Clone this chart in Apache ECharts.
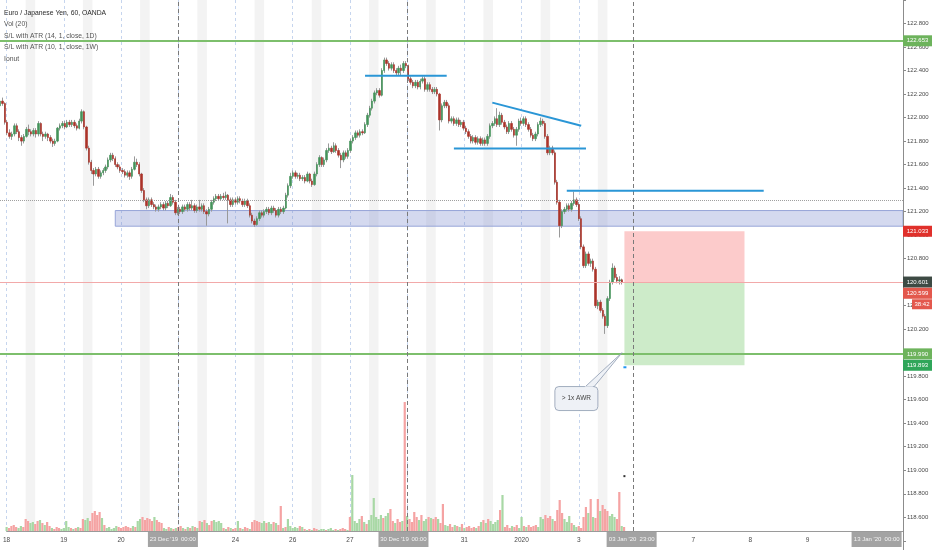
<!DOCTYPE html>
<html><head><meta charset="utf-8">
<script src="https://cdn.jsdelivr.net/npm/echarts/dist/echarts.min.js"></script>
<style>html,body{margin:0;padding:0;background:#fff}#c{width:932px;height:550px}</style>
</head><body><div id="c"></div>
<script>
// ---------- data ----------
const dayNames = ['18 Dec','19 Dec','20 Dec','23 Dec','24 Dec','26 Dec','27 Dec','30 Dec','31 Dec','02 Jan','03 Jan','06 Jan','07 Jan','08 Jan','09 Jan','10 Jan'];
const dayTicks = ['18','19','20','23','24','26','27','30','31','2020','3','6','7','8','9','10'];
// hourly candles [open, close, low, high]
const candles = [
[122.10,122.14,122.08,122.16],[122.14,122.12,122.10,122.17],[122.12,121.96,121.94,122.13],[121.96,121.87,121.85,121.98],[121.87,121.84,121.82,121.90],
[121.84,121.86,121.81,121.88],[121.86,121.93,121.84,121.95],[121.93,121.88,121.86,121.95],[121.88,121.83,121.80,121.90],[121.83,121.80,121.76,121.85],
[121.80,121.84,121.78,121.86],[121.84,121.90,121.83,121.92],[121.90,121.88,121.85,121.94],[121.88,121.86,121.84,121.90],[121.86,121.89,121.84,121.91],
[121.89,121.86,121.83,121.91],[121.86,121.95,121.84,121.97],[121.95,121.86,121.84,121.96],[121.86,121.84,121.80,121.88],[121.84,121.86,121.82,121.88],
[121.86,121.83,121.80,121.87],[121.83,121.80,121.78,121.85],[121.80,121.78,121.75,121.82],[121.78,121.80,121.76,121.82],[121.80,121.91,121.79,121.92],
[121.91,121.93,121.89,121.95],[121.93,121.95,121.91,121.97],[121.95,121.92,121.90,121.97],[121.92,121.96,121.91,121.98],[121.96,121.94,121.92,121.98],
[121.94,121.96,121.92,121.98],[121.96,121.93,121.91,121.98],[121.93,121.91,121.89,121.95],[121.91,121.97,121.90,121.99],[121.97,122.05,121.95,122.07],
[122.05,121.92,121.90,122.06],[121.92,121.74,121.72,121.93],[121.74,121.62,121.60,121.76],[121.62,121.55,121.52,121.64],[121.55,121.52,121.42,121.57],
[121.52,121.56,121.50,121.58],[121.56,121.50,121.48,121.58],[121.50,121.53,121.48,121.55],[121.53,121.55,121.51,121.57],[121.55,121.58,121.53,121.60],
[121.58,121.64,121.56,121.66],[121.64,121.68,121.62,121.70],[121.68,121.65,121.63,121.70],[121.65,121.60,121.58,121.67],[121.60,121.58,121.56,121.62],
[121.58,121.55,121.53,121.60],[121.55,121.54,121.52,121.57],[121.54,121.51,121.49,121.56],[121.51,121.53,121.49,121.55],[121.53,121.50,121.47,121.55],
[121.50,121.56,121.48,121.58],[121.56,121.62,121.55,121.67],[121.62,121.60,121.58,121.65],[121.60,121.52,121.50,121.62],[121.52,121.38,121.36,121.53],
[121.38,121.30,121.28,121.40],[121.30,121.25,121.22,121.32],[121.25,121.30,121.23,121.32],[121.30,121.26,121.24,121.32],[121.26,121.24,121.22,121.28],
[121.24,121.22,121.20,121.26],[121.22,121.24,121.20,121.26],[121.24,121.26,121.22,121.28],[121.26,121.23,121.21,121.28],[121.23,121.27,121.21,121.29],
[121.27,121.25,121.23,121.29],[121.25,121.32,121.24,121.35],[121.32,121.28,121.26,121.34],[121.28,121.19,121.17,121.30],[121.19,121.22,121.17,121.24],
[121.22,121.20,121.18,121.24],[121.20,121.24,121.18,121.26],[121.24,121.22,121.20,121.26],[121.22,121.26,121.20,121.28],[121.26,121.23,121.21,121.28],
[121.23,121.25,121.21,121.30],[121.25,121.21,121.19,121.27],[121.21,121.24,121.19,121.26],[121.24,121.22,121.20,121.30],[121.22,121.25,121.20,121.27],
[121.25,121.20,121.18,121.27],[121.20,121.18,121.08,121.22],[121.18,121.22,121.16,121.24],[121.22,121.28,121.20,121.30],[121.28,121.31,121.26,121.33],
[121.31,121.33,121.29,121.35],[121.33,121.31,121.29,121.35],[121.31,121.33,121.29,121.35],[121.33,121.32,121.30,121.36],[121.32,121.34,121.30,121.37],
[121.34,121.30,121.10,121.35],[121.30,121.26,121.24,121.32],[121.26,121.30,121.24,121.32],[121.30,121.28,121.26,121.32],[121.28,121.31,121.26,121.33],
[121.31,121.29,121.27,121.33],[121.29,121.26,121.24,121.31],[121.26,121.29,121.24,121.31],[121.29,121.25,121.23,121.31],[121.25,121.17,121.15,121.27],
[121.17,121.12,121.10,121.19],[121.12,121.09,121.07,121.14],[121.09,121.14,121.08,121.16],[121.14,121.19,121.12,121.21],[121.19,121.17,121.15,121.21],
[121.17,121.20,121.15,121.22],[121.20,121.22,121.18,121.24],[121.22,121.19,121.17,121.24],[121.19,121.23,121.17,121.25],[121.23,121.21,121.19,121.25],
[121.21,121.17,121.15,121.23],[121.17,121.22,121.15,121.24],[121.22,121.20,121.18,121.24],[121.20,121.23,121.18,121.25],[121.23,121.34,121.22,121.36],
[121.34,121.42,121.32,121.44],[121.42,121.50,121.40,121.53],[121.50,121.53,121.48,121.55],[121.53,121.50,121.48,121.55],[121.50,121.51,121.48,121.53],
[121.51,121.48,121.46,121.53],[121.48,121.49,121.46,121.51],[121.49,121.46,121.44,121.51],[121.46,121.52,121.45,121.54],[121.52,121.46,121.44,121.53],
[121.46,121.43,121.41,121.48],[121.43,121.52,121.42,121.54],[121.52,121.60,121.50,121.62],[121.60,121.66,121.58,121.68],[121.66,121.60,121.58,121.67],
[121.60,121.64,121.58,121.66],[121.64,121.72,121.62,121.74],[121.72,121.74,121.70,121.78],[121.74,121.71,121.69,121.76],[121.71,121.76,121.70,121.79],
[121.76,121.72,121.70,121.78],[121.72,121.68,121.66,121.74],[121.68,121.64,121.57,121.70],[121.64,121.70,121.62,121.72],[121.70,121.67,121.65,121.72],
[121.67,121.72,121.65,121.74],[121.72,121.80,121.70,121.82],[121.80,121.83,121.78,121.85],[121.83,121.87,121.81,121.89],[121.87,121.85,121.83,121.89],
[121.85,121.88,121.83,121.90],[121.88,121.87,121.85,121.90],[121.87,121.94,121.86,121.96],[121.94,122.02,121.92,122.04],[122.02,122.08,122.00,122.10],
[122.08,122.14,122.06,122.16],[122.14,122.21,122.12,122.23],[122.21,122.23,122.19,122.25],[122.23,122.19,122.17,122.25],[122.19,122.40,122.18,122.42],
[122.40,122.49,122.38,122.51],[122.49,122.46,122.44,122.51],[122.46,122.42,122.40,122.48],[122.42,122.45,122.40,122.47],[122.45,122.40,122.38,122.47],
[122.40,122.38,122.36,122.42],[122.38,122.42,122.36,122.44],[122.42,122.40,122.36,122.45],[122.40,122.46,122.38,122.48],[122.46,122.44,122.42,122.48],
[122.44,122.33,122.31,122.45],[122.33,122.30,122.28,122.35],[122.30,122.27,122.25,122.32],[122.27,122.30,122.25,122.32],[122.30,122.26,122.24,122.32],
[122.26,122.31,122.24,122.33],[122.31,122.33,122.29,122.35],[122.33,122.24,122.22,122.35],[122.24,122.28,122.22,122.30],[122.28,122.24,122.22,122.30],
[122.24,122.22,122.20,122.26],[122.22,122.24,122.20,122.26],[122.24,122.20,122.18,122.26],[122.20,121.98,121.89,122.21],[121.98,122.10,121.96,122.12],
[122.10,122.13,122.08,122.15],[122.13,122.10,122.08,122.15],[122.10,121.97,121.95,122.12],[121.97,121.99,121.95,122.01],[121.99,121.95,121.93,122.01],
[121.95,121.98,121.93,122.00],[121.98,121.94,121.92,122.00],[121.94,121.96,121.92,121.98],[121.96,121.91,121.89,121.98],[121.91,121.88,121.86,121.93],
[121.88,121.84,121.82,121.90],[121.84,121.80,121.78,121.86],[121.80,121.83,121.78,121.85],[121.83,121.79,121.77,121.85],[121.79,121.82,121.77,121.84],
[121.82,121.78,121.76,121.84],[121.78,121.81,121.76,121.83],[121.81,121.78,121.76,121.83],[121.78,121.84,121.76,121.86],[121.84,121.93,121.82,121.95],
[121.93,121.95,121.91,121.97],[121.95,121.99,121.93,122.01],[121.99,121.94,121.92,122.08],[121.94,122.02,121.92,122.05],[122.02,121.96,121.94,122.04],
[121.96,121.92,121.90,121.98],[121.92,121.88,121.86,121.94],[121.88,121.95,121.86,121.97],[121.95,121.90,121.88,121.97],[121.90,121.85,121.83,121.92],
[121.85,121.90,121.76,121.92],[121.90,121.97,121.88,121.99],[121.97,121.95,121.93,122.00],[121.95,121.99,121.93,122.01],[121.99,121.94,121.92,122.01],
[121.94,121.90,121.88,121.96],[121.90,121.85,121.83,121.92],[121.85,121.82,121.80,121.87],[121.82,121.86,121.80,121.88],[121.86,121.94,121.84,121.96],
[121.94,121.97,121.92,122.00],[121.97,121.95,121.93,121.99],[121.95,121.84,121.82,121.97],[121.84,121.70,121.68,121.86],[121.70,121.74,121.68,121.76],
[121.74,121.70,121.68,121.76],[121.70,121.45,121.43,121.72],[121.45,121.28,121.26,121.47],[121.28,121.08,120.98,121.30],[121.08,121.20,121.06,121.22],
[121.20,121.22,121.18,121.24],[121.22,121.25,121.20,121.27],[121.25,121.22,121.20,121.27],[121.22,121.27,121.20,121.29],[121.27,121.30,121.25,121.37],
[121.30,121.26,121.24,121.32],[121.26,121.14,121.12,121.28],[121.14,120.90,120.88,121.16],[120.90,120.74,120.72,120.92],[120.74,120.84,120.72,120.86],
[120.84,120.76,120.74,120.86],[120.76,120.78,120.73,120.80],[120.78,120.71,120.69,120.80],[120.71,120.40,120.38,120.73],[120.40,120.43,120.37,120.45],
[120.43,120.36,120.34,120.45],[120.36,120.31,120.29,120.38],[120.31,120.23,120.16,120.33],[120.23,120.46,120.21,120.48],[120.46,120.60,120.44,120.62],
[120.60,120.72,120.58,120.76],[120.72,120.64,120.62,120.74],[120.64,120.61,120.59,120.67],[120.61,120.62,120.58,120.65],[120.62,120.60,120.58,120.63]
];
const volumes = [
4,3,5,6,4,3,5,4, 12,10, 8,9,7,10,11,8,6,9,5, 3,2,4,3,2,3,10,4,3,2,3,4,3, 12,11,13,10,
18,20,16,19,13,6, 3,4,2,3,5,4,3, 4,5,4,3,5,4, 10,12,14,11,13,12,10,14,11,9,8, 3,2,4,3,2,3,
4,5,3,2,4,3,5,4,3, 10,9,11,8,6, 10,11,9,10,8, 3,2,4,3,2,3, 10, 3,2,4,3,2, 9,11,10,9,8,10,
8,9,7,9,8,6, 25, 3, 4, 12,5,3,4,3,5,4, 2,1,2,1,3,2,1,2,2,1,2,3,1,2,1,2,3,2,1, 14,
56,10,8,12,15,9,7,11, 16, 33, 14,12,16,13,15, 18,22, 10,8,12,9,10, 129,
15,12,9,19,14,11,16,10, 12,14,13,12,14,12, 8, 27, 6,5,7,4,6,5,4,7, 3,4,5,3,4,3,5,
9,11,8,12,10,7,9,11, 21, 36, 4,6,3,5,4,6,3, 14, 5,4,6,4,5,6,4, 14,12,16,13,15,12,10,
21, 31, 18,12,9,15,8,6, 4,5,3, 14,24,18, 32, 14,13, 32, 20,26,22,20, 15,17,14,12, 39, 5,4
];
const greenLevels = [122.653, 119.990];
const lastPrice = 120.601;
const grayLevel = 121.30;
const zoneBand = [48, 121.209, 121.076];
const trendLines = [[152,122.356,186,122.356],[205,122.127,242,121.931],[189,121.736,244,121.736],[236,121.378,318,121.378]];
const positionIdx = [260, 310];
const positionPrices = [121.033, 120.601, 119.893];
const tagPrices = [122.653, 121.033, 120.601, 120.599, 119.990, 119.893];
const tagCountdown = '38:42';
const vLineIdx = [72, 168, 263];
const timeBoxes = [[72,"23 Dec '19","00:00"],[168,"30 Dec '19","00:00"],[263,"03 Jan '20","23:00"],[365,"13 Jan '20","00:00"]];
const legendLines = ['Euro / Japanese Yen, 60, OANDA','Vol (20)','S/L with ATR (14, 1, close, 1D)','S/L with ATR (10, 1, close, 1W)','Ionut'];
const callout = ['> 1x AWR', 240, 119.61, 259, 120.00];
const markerDots = [[260, 119.893], [260, 118.95]];
const dataDays = 11;

// ---------- build ----------
const FONT = 'Liberation Sans, Arial, sans-serif';
const cats = [];
dayNames.forEach(d => { for (let h = 0; h < 24; h++) cats.push(d + ' ' + String(h).padStart(2, '0') + ':00'); });
const bodies = candles.map(c => [c[0], c[1], Math.min(c[0], c[1]), Math.max(c[0], c[1])]);
const volData = volumes.map((v, i) => ({ value: v, itemStyle: { color: (candles[i] && candles[i][1] >= candles[i][0]) ? '#a8d8a5' : '#f5a3a3' } }));
const bands = [];
for (let k = 0; k < dataDays; k++) bands.push([{ xAxis: k * 24 + 8 }, { xAxis: k * 24 + 12 }]);

const chart = echarts.init(document.getElementById('c'), null, { renderer: 'canvas' });
const option = {
  animation: false,
  backgroundColor: '#ffffff',
  grid: [
    { left: 0, right: 29, top: -0.85, height: 541.65 },
    { left: 0, right: 29, top: 0, bottom: 19 }
  ],
  xAxis: [
    { gridIndex: 0, type: 'category', data: cats, boundaryGap: false, min: 0, max: 376, show: false,
      axisLine: { show: false, onZero: false }, axisTick: { show: false }, axisLabel: { show: false } },
    { gridIndex: 1, type: 'category', data: cats, boundaryGap: false, min: 0, max: 376,
      axisLine: { show: true, onZero: false, lineStyle: { color: '#9a9a9a', width: 1 } },
      axisTick: { show: false },
      axisLabel: { show: true, color: '#4a4a4a', fontSize: 6.5, fontFamily: FONT, margin: 6,
        interval: (i) => i % 24 === 0,
        formatter: (v, i) => dayTicks[Math.floor(i / 24)] || '' },
      splitLine: { show: true, interval: (i) => i % 24 === 0 && i <= (dataDays - 1) * 24,
        lineStyle: { color: '#c6d5ee', type: [3, 3], width: 1 } } },
    { gridIndex: 0, type: 'value', min: 0, max: 376, show: false,
      axisLine: { show: false, onZero: false }, axisTick: { show: false }, axisLabel: { show: false }, splitLine: { show: false } }
  ],
  yAxis: [
    { gridIndex: 0, type: 'value', position: 'right', min: 118.4, max: 123.0, interval: 0.2,
      axisLine: { show: false, onZero: false },
      axisTick: { show: true, length: 3, lineStyle: { color: '#8a8a8a' } },
      axisLabel: { color: '#4a4a4a', fontSize: 6, fontFamily: FONT, margin: 4,
        formatter: (v) => (v < 118.55 || v > 122.85) ? '' : v.toFixed(3) },
      splitLine: { show: false } },
    { gridIndex: 1, type: 'value', min: 0, max: 531, show: false,
      axisLine: { show: false, onZero: false }, axisTick: { show: false }, axisLabel: { show: false }, splitLine: { show: false } }
  ],
  series: [
    { type: 'line', xAxisIndex: 1, yAxisIndex: 1, data: [], z: 0, silent: true,
      markArea: { silent: true, itemStyle: { color: '#f3f3f3' }, data: bands } },
    { type: 'bar', xAxisIndex: 1, yAxisIndex: 1, data: volData, barWidth: 2.2, z: 1, silent: true },
    { type: 'line', xAxisIndex: 2, yAxisIndex: 0, data: [], z: 2, silent: true,
      markLine: { silent: true, symbol: ['none', 'none'], label: { show: false },
        data: [
          { yAxis: greenLevels[0], lineStyle: { color: '#7dbf6c', width: 2, type: 'solid' } },
          { yAxis: greenLevels[1], lineStyle: { color: '#7dbf6c', width: 2, type: 'solid' } },
          { yAxis: lastPrice, lineStyle: { color: '#f2a9a9', width: 1, type: 'solid' } },
          { yAxis: grayLevel, lineStyle: { color: '#a0a0a0', width: 1, type: 'dotted' } }
        ] },
      markArea: { silent: true,
        data: [
          [{ coord: [zoneBand[0], zoneBand[1]], itemStyle: { color: 'rgba(120,138,206,0.32)', borderColor: '#97a5d8', borderWidth: 1 } }, { coord: [376, zoneBand[2]] }],
          [{ coord: [positionIdx[0], positionPrices[0]], itemStyle: { color: '#fccbcb' } }, { coord: [positionIdx[1], positionPrices[1]] }],
          [{ coord: [positionIdx[0], positionPrices[1]], itemStyle: { color: '#cdebc9' } }, { coord: [positionIdx[1], positionPrices[2]] }]
        ] } },
    { type: 'candlestick', xAxisIndex: 0, yAxisIndex: 0, data: candles, barWidth: 0.6, z: 3, silent: true,
      itemStyle: { color: '#999999', color0: '#999999', borderColor: '#999999', borderColor0: '#999999', borderWidth: 1 } },
    { type: 'candlestick', xAxisIndex: 0, yAxisIndex: 0, data: bodies, barWidth: 1.9, z: 4, silent: true,
      itemStyle: { color: '#44935a', color0: '#ab3329', borderColor: '#44935a', borderColor0: '#ab3329', borderWidth: 0.6 } },
    { type: 'line', xAxisIndex: 1, yAxisIndex: 1, data: [], z: 5, silent: true,
      markLine: { silent: true, symbol: ['none', 'none'], label: { show: false },
        lineStyle: { color: '#7a7a7a', width: 1, type: [4, 3] },
        data: vLineIdx.map(i => ({ xAxis: i })) } }
  ].concat(trendLines.map(t => ({
    type: 'line', xAxisIndex: 2, yAxisIndex: 0, data: [[t[0], t[1]], [t[2], t[3]]], symbol: 'none', z: 6, silent: true,
    lineStyle: { color: '#2a96d6', width: 2 }
  })))
};
chart.setOption(option);

// ---------- overlay labels ----------
const px = (i) => chart.convertToPixel({ xAxisIndex: 2 }, i);
const py = (p) => chart.convertToPixel({ yAxisIndex: 0 }, p);
const g = [];
g.push({ type: 'line', shape: { x1: 903.5, y1: 0, x2: 903.5, y2: 550 }, style: { stroke: '#8c8c8c', lineWidth: 1 }, z: 50 });
legendLines.forEach((t, k) => {
  g.push({ type: 'text', x: 4, y: [13, 24.5, 36, 47.5, 59][k], z: 60,
    style: { text: t, fill: k === 0 ? '#2a2a2a' : '#555', fontSize: 6.8, fontFamily: FONT, align: 'left', verticalAlign: 'middle' } });
});
const tagColors = ['#6db35c', '#e0302b', '#3d4a44', '#e3584d', '#6db35c', '#2fa65a'];
const tagShift = [0, 0, 0, 11, 0, 0];
tagPrices.forEach((p, k) => {
  const y = py(p) + tagShift[k];
  g.push({ type: 'rect', shape: { x: 903, y: y - 5.5, width: 29, height: 11 }, style: { fill: tagColors[k] }, z: 60 });
  g.push({ type: 'text', x: 917.5, y: y, z: 61, style: { text: p.toFixed(3), fill: '#fff', fontSize: 6, fontFamily: FONT, align: 'center', verticalAlign: 'middle' } });
});
{
  const y = py(tagPrices[3]) + 22;
  g.push({ type: 'rect', shape: { x: 912, y: y - 5, width: 20, height: 10 }, style: { fill: '#e3584d' }, z: 60 });
  g.push({ type: 'text', x: 922, y: y, z: 61, style: { text: tagCountdown, fill: '#fff', fontSize: 6, fontFamily: FONT, align: 'center', verticalAlign: 'middle' } });
}
timeBoxes.forEach(b => {
  const cx = px(b[0]);
  g.push({ type: 'rect', shape: { x: cx - 25, y: 532, width: 50, height: 15 }, style: { fill: '#a3a3a3' }, z: 60 });
  g.push({ type: 'text', x: cx - 9, y: 539.5, z: 61, style: { text: b[1], fill: '#f4f4f4', fontSize: 6, fontFamily: FONT, align: 'center', verticalAlign: 'middle' } });
  g.push({ type: 'text', x: cx + 15.5, y: 539.5, z: 61, style: { text: b[2], fill: '#f4f4f4', fontSize: 6, fontFamily: FONT, align: 'center', verticalAlign: 'middle' } });
});
{
  const cx = px(callout[1]), cy = py(callout[2]);
  const tx = px(callout[3]), ty = py(callout[4]);
  const top = cy - 12;
  g.push({ type: 'polygon', shape: { points: [[cx + 8, top + 1], [cx + 17, top + 1], [tx, ty]] }, style: { fill: '#eef1f6', stroke: '#8d9ab0', lineWidth: 0.8 }, z: 55 });
  g.push({ type: 'rect', shape: { x: cx - 21.5, y: top, width: 43, height: 24, r: 4 }, style: { fill: '#eef1f6', stroke: '#8d9ab0', lineWidth: 0.8 }, z: 56 });
  g.push({ type: 'rect', shape: { x: cx + 8.5, y: top - 0.2, width: 8, height: 1.8 }, style: { fill: '#eef1f6' }, z: 57 });
  g.push({ type: 'text', x: cx, y: cy, z: 58, style: { text: callout[0], fill: '#444', fontSize: 6.5, fontFamily: FONT, align: 'center', verticalAlign: 'middle' } });
}
g.push({ type: 'rect', shape: { x: px(markerDots[0][0]) - 1, y: py(markerDots[0][1]) + 1, width: 3, height: 2 }, style: { fill: '#2196f3' }, z: 55 });
g.push({ type: 'rect', shape: { x: px(markerDots[1][0]) - 1, y: py(markerDots[1][1]) - 1, width: 2, height: 2 }, style: { fill: '#333' }, z: 55 });
chart.setOption({ graphic: g });
</script>
</body></html>
